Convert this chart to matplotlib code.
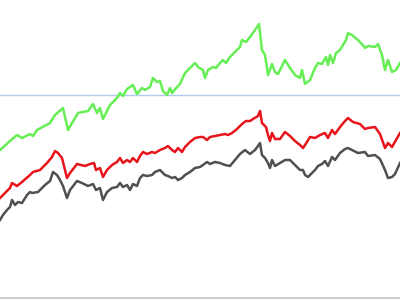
import matplotlib
matplotlib.use('Agg')
import matplotlib.pyplot as plt

# values (x = day index, y = level)
green_x = [0, 10, 17, 22, 30, 33, 37, 50, 55, 63, 68, 78, 88, 93, 97, 100, 103, 110, 117, 120,
           123, 127, 133, 137, 142, 145, 150, 153, 157, 160, 163, 167, 170, 172, 177, 180, 185, 190, 195, 198,
           203, 205, 208, 213, 216, 220, 223, 226, 230, 235, 240, 242, 246, 250, 255, 259, 262, 265, 268, 272,
           275, 278, 285, 290, 295, 300, 302, 305, 310, 315, 318, 322, 326, 328, 330, 333, 336, 340, 346, 348,
           352, 358, 362, 365, 368, 375, 378, 382, 385, 388, 392, 396, 400]
green_y = [150, 159, 165, 162, 166, 164, 170, 177, 185, 192, 170, 187, 189, 196, 187, 192, 181, 195, 202, 207,
           204, 211, 215, 206, 212, 210, 213, 222, 218, 219, 209, 205, 212, 207, 213, 216, 227, 232, 237, 233,
           230, 222, 230, 233, 232, 237, 240, 237, 243, 248, 253, 260, 258, 263, 270, 276, 250, 245, 225, 236,
           228, 226, 240, 232, 225, 222, 230, 216, 220, 232, 237, 236, 243, 235, 245, 237, 247, 250, 260, 267,
           265, 260, 256, 252, 254, 253, 256, 245, 230, 240, 228, 230, 237]

red_x = [0, 5, 10, 12, 17, 22, 30, 33, 40, 47, 52, 55, 58, 62, 67, 70, 77, 85, 90, 94,
         96, 100, 103, 107, 112, 117, 120, 123, 127, 130, 133, 137, 140, 143, 147, 152, 155, 160, 165, 168,
         172, 175, 178, 182, 185, 190, 195, 200, 203, 207, 210, 215, 220, 225, 228, 232, 237, 242, 246, 250,
         253, 258, 260, 262, 266, 268, 270, 272, 275, 280, 285, 290, 295, 300, 303, 307, 310, 315, 320, 325,
         328, 332, 335, 340, 345, 348, 353, 360, 365, 368, 375, 380, 385, 388, 392, 396, 400]
red_y = [102, 107, 112, 117, 114, 118, 125, 128, 130, 137, 143, 149, 147, 142, 122, 127, 136, 134, 136, 137,
         130, 132, 123, 130, 135, 138, 142, 137, 140, 138, 142, 138, 144, 148, 146, 148, 147, 150, 152, 154,
         150, 148, 152, 148, 153, 158, 162, 163, 163, 160, 163, 164, 165, 166, 165, 167, 171, 176, 179, 179,
         181, 184, 189, 177, 173, 165, 159, 167, 161, 161, 168, 164, 159, 155, 152, 158, 163, 162, 165, 167,
         162, 170, 166, 173, 179, 182, 178, 176, 171, 172, 173, 166, 152, 157, 153, 160, 167]

gray_x = [0, 3, 7, 10, 12, 15, 18, 22, 27, 30, 32, 38, 45, 50, 53, 57, 60, 63, 67, 70,
          77, 82, 88, 93, 96, 100, 103, 107, 112, 117, 120, 123, 127, 130, 133, 137, 140, 143, 147, 152,
          155, 160, 165, 168, 172, 175, 178, 182, 185, 190, 195, 200, 203, 207, 210, 215, 220, 225, 230, 235,
          240, 245, 250, 255, 258, 260, 262, 265, 268, 270, 272, 275, 280, 285, 290, 295, 300, 303, 305, 308,
          312, 315, 318, 322, 325, 328, 332, 335, 340, 345, 348, 352, 358, 365, 368, 375, 380, 385, 388, 392,
          395, 400]
gray_y = [80, 85, 90, 93, 100, 95, 98, 97, 105, 108, 107, 108, 115, 119, 128, 125, 120, 114, 102, 110,
          119, 117, 114, 116, 110, 112, 100, 108, 112, 113, 117, 113, 115, 110, 116, 114, 122, 125, 124, 125,
          128, 130, 125, 124, 122, 123, 120, 122, 125, 128, 132, 133, 135, 138, 136, 138, 137, 135, 134, 140,
          146, 150, 146, 150, 154, 157, 145, 142, 137, 132, 140, 134, 137, 140, 140, 135, 130, 130, 125, 123,
          127, 130, 134, 136, 139, 134, 143, 140, 147, 151, 152, 150, 147, 148, 144, 145, 141, 130, 122, 123,
          126, 137]

ref_level = 205

fig = plt.figure(figsize=(4, 3), dpi=100)
ax = fig.add_axes([0, 0, 1, 1])

ax.axhline(ref_level, color='#aecbec', lw=1)
ax.plot(green_x, green_y, color='#66ee55', lw=1.8)
ax.plot(red_x, red_y, color='#e8141c', lw=1.8)
ax.plot(gray_x, gray_y, color='#505050', lw=1.8)
ax.axhline(2, color='#c4c4c4', lw=1.2)

ax.set_xlim(0, 400)
ax.set_ylim(0, 300)
ax.axis('off')

fig.savefig('out.png', dpi=100)
